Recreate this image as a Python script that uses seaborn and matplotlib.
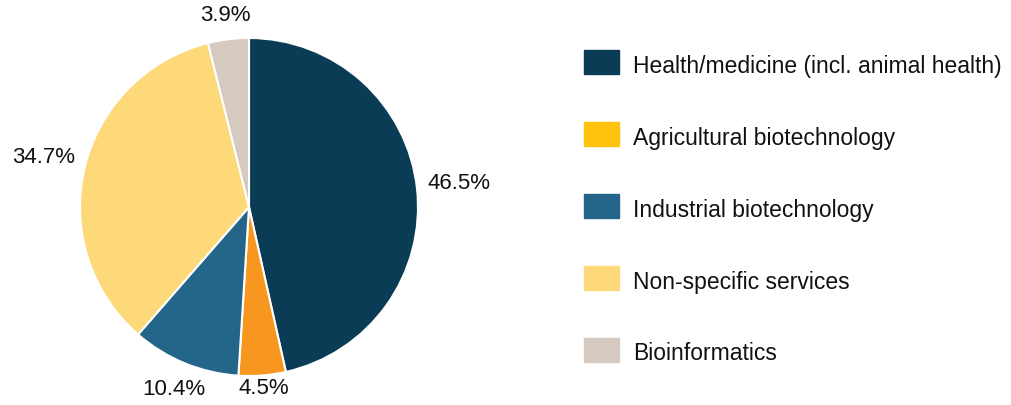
import numpy as np
import matplotlib
matplotlib.use("Agg")
import matplotlib.pyplot as plt
import matplotlib.patches as mpatches
import seaborn as sns

sns.set_theme(style="white")
plt.rcParams['font.family'] = ['Liberation Sans', 'DejaVu Sans']

# data
categories = ["Health/medicine (incl. animal health)", "Agricultural biotechnology",
              "Industrial biotechnology", "Non-specific services", "Bioinformatics"]
shares = [46.5, 4.5, 10.4, 34.7, 3.9]
slice_colors = ["#0B3C55", "#F7971F", "#23668A", "#FDD97A", "#D5C9C0"]
legend_colors = ["#0B3C55", "#FFC20E", "#23668A", "#FDD97A", "#D5C9C0"]
label_dist = [1.25, 1.08, 1.17, 1.25, 1.14]

fig = plt.figure(figsize=(10.11, 4.05), dpi=100)
W, H = 1011, 405
r = 169
cx, cy = 249, 207
ax = fig.add_axes([(cx - r) / W, (H - cy - r) / H, 2 * r / W, 2 * r / H])

wedges, texts = ax.pie(shares, colors=slice_colors, startangle=90, counterclock=False,
                       wedgeprops=dict(edgecolor="white", linewidth=1.5), radius=1)
ax.set_xlim(-1, 1)
ax.set_ylim(-1, 1)
ax.set_aspect("equal")
ax.axis("off")

# percentage labels outside the slices
for w, v, d in zip(wedges, shares, label_dist):
    ang = np.deg2rad((w.theta1 + w.theta2) / 2)
    ax.text(d * np.cos(ang), d * np.sin(ang), f"{v}%", ha="center", va="center",
            fontsize=16, color="#111111", clip_on=False)

# legend drawn manually
lax = fig.add_axes([0, 0, 1, 1])
lax.set_xlim(0, W)
lax.set_ylim(H, 0)
lax.axis("off")
ys = [62, 134, 206, 278, 350]
for y, c, name in zip(ys, legend_colors, categories):
    lax.add_patch(mpatches.Rectangle((584, y - 12), 35, 24, color=c))
    lax.text(633, y + 4, name, ha="left", va="center", fontsize=16.5, color="#111111")

fig.savefig("out.png", dpi=100)
